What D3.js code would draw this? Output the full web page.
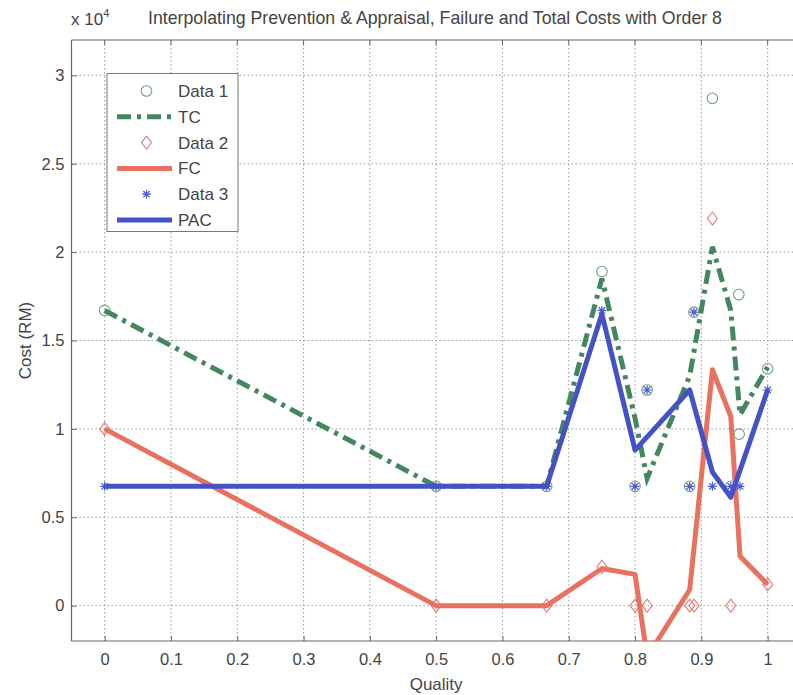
<!DOCTYPE html>
<html>
<head>
<meta charset="utf-8">
<script src="https://cdn.jsdelivr.net/npm/d3@7"></script>
<style>
  html, body { margin: 0; padding: 0; background: #fff; }
  svg { display: block; }
  text { font-family: "Liberation Sans", Arial, Helvetica, sans-serif; fill: #444; }
</style>
</head>
<body>
<svg id="chart" width="793" height="695"></svg>
<script>
// ---------- data ----------
const titleText = "Interpolating Prevention & Appraisal, Failure and Total Costs with Order 8";
const xLabel = "Quality";
const yLabel = "Cost (RM)";
const xTicks = [0, 0.1, 0.2, 0.3, 0.4, 0.5, 0.6, 0.7, 0.8, 0.9, 1];
const yTicks = [0, 5000, 10000, 15000, 20000, 25000, 30000];
const yTickLabels = ["0", "0.5", "1", "1.5", "2", "2.5", "3"];

// interpolated curves
const lineX   = [0, 0.5, 0.6667, 0.75, 0.8, 0.8182, 0.8824, 0.9167, 0.9444, 0.9583, 1.0];
const tcLine  = [16700, 6750, 6750, 18500, 10600, 7200, 13000, 20300, 16700, 10800, 13500];
const fcLine  = [10000, 0, 0, 2100, 1770, -2900, 900, 13350, 10700, 2800, 1200];
const pacLine = [6750, 6750, 6750, 16500, 8800, 9550, 12200, 7560, 6130, 7650, 12200];

// data points
const data1X = [0, 0.5, 0.6667, 0.75, 0.8, 0.8182, 0.8824, 0.8889, 0.9167, 0.9444, 0.9570, 0.9565, 1.0];
const data1Y = [16700, 6750, 6750, 18900, 6750, 12200, 6750, 16600, 28700, 6750, 9700, 17600, 13400];
const data2X = [0, 0.5, 0.6667, 0.75, 0.8, 0.8182, 0.8824, 0.8889, 0.9167, 0.9444, 1.0];
const data2Y = [10000, 0, 0, 2200, 0, 0, 0, 0, 21900, 0, 1200];
const data3X = [0, 0.5, 0.6667, 0.75, 0.8, 0.8182, 0.8824, 0.8889, 0.9167, 0.9444, 0.9583, 1.0];
const data3Y = [6750, 6750, 6750, 16700, 6750, 12200, 6750, 16600, 6750, 6750, 6750, 12200];

const legendNames = ["Data 1", "TC", "Data 2", "FC", "Data 3", "PAC"];

// ---------- styles ----------
const cTC = "#44875f", cFC = "#e8725f", cPAC = "#4552c6";
const cD1 = "#6f9f80", cD2 = "#e07a78", cD3 = "#4a5ad2";
const FS = 17;

const svg = d3.select("#chart");
const L = 71.5, T = 40, B = 641, R = 800.8;

const x = d3.scaleLinear().domain([-0.05, 1.05]).range([L, R]);
const y = d3.scaleLinear().domain([-2000, 32000]).range([B, T]);

svg.append("defs").append("clipPath").attr("id", "plotclip")
  .append("rect").attr("x", L).attr("y", T).attr("width", R - L).attr("height", B - T);

// grid
const grid = svg.append("g");
grid.selectAll("line.vg").data(xTicks).join("line")
  .attr("x1", d => x(d)).attr("x2", d => x(d)).attr("y1", T).attr("y2", B)
  .attr("stroke", "#9a9a9a").attr("stroke-width", 1).attr("stroke-dasharray", "1.5,2.5");
grid.selectAll("line.hg").data(yTicks).join("line")
  .attr("x1", L).attr("x2", R).attr("y1", d => y(d)).attr("y2", d => y(d))
  .attr("stroke", "#9a9a9a").attr("stroke-width", 1).attr("stroke-dasharray", "1.5,2.5");

// axes
const xAxis = d3.axisBottom(x).tickValues(xTicks).tickSize(-5).tickPadding(12)
  .tickFormat(d3.format("~g"));
const gx = svg.append("g").attr("transform", `translate(0,${B})`).call(xAxis);
const yAxis = d3.axisLeft(y).tickValues(yTicks).tickSize(-5).tickPadding(7)
  .tickFormat((d, i) => yTickLabels[i]);
const gy = svg.append("g").attr("transform", `translate(${L},0)`).call(yAxis);
[gx, gy].forEach(g => {
  g.select(".domain").attr("stroke", "#666").attr("stroke-width", 1.2);
  g.selectAll(".tick line").attr("stroke", "#666");
  g.selectAll(".tick text").attr("font-size", FS - 0.5).attr("fill", "#555")
    .attr("font-family", "'Liberation Sans', Arial, sans-serif");
});
gx.select(".domain").attr("d", `M${L},0H${R}`);
gy.select(".domain").attr("d", `M0,${B}V${T}`);
// top border
svg.append("line").attr("x1", L).attr("x2", R).attr("y1", T).attr("y2", T)
  .attr("stroke", "#666").attr("stroke-width", 1.2);
// top ticks
svg.selectAll("line.tt").data(xTicks).join("line")
  .attr("x1", d => x(d)).attr("x2", d => x(d)).attr("y1", T).attr("y2", T + 5).attr("stroke", "#666");

// ---------- plot ----------
const plot = svg.append("g").attr("clip-path", "url(#plotclip)");
const lineGen = d3.line().x(d => x(d[0])).y(d => y(d[1]));
const zip = (xs, ys) => xs.map((v, i) => [v, ys[i]]);

function circles(xs, ys) {
  plot.append("g").selectAll("circle").data(zip(xs, ys)).join("circle")
    .attr("cx", d => x(d[0])).attr("cy", d => y(d[1])).attr("r", 5.3)
    .attr("fill", "none").attr("stroke", cD1).attr("stroke-width", 1.1);
}
function diamonds(xs, ys) {
  plot.append("g").selectAll("path").data(zip(xs, ys)).join("path")
    .attr("d", d => { const cx = x(d[0]), cy = y(d[1]);
      return `M${cx},${cy-6.5}L${cx+5},${cy}L${cx},${cy+6.5}L${cx-5},${cy}Z`; })
    .attr("fill", "none").attr("stroke", cD2).attr("stroke-width", 1.1);
}
function stars(xs, ys) {
  plot.append("g").selectAll("path").data(zip(xs, ys)).join("path")
    .attr("d", d => { const cx = x(d[0]), cy = y(d[1]), s = 4.5, t = 3.2;
      return `M${cx-s},${cy}H${cx+s}M${cx},${cy-s}V${cy+s}M${cx-t},${cy-t}L${cx+t},${cy+t}M${cx-t},${cy+t}L${cx+t},${cy-t}`; })
    .attr("fill", "none").attr("stroke", cD3).attr("stroke-width", 1.2);
}

circles(data1X, data1Y);
plot.append("path").attr("d", lineGen(zip(lineX, tcLine)))
  .attr("fill", "none").attr("stroke", cTC).attr("stroke-width", 5)
  .attr("stroke-dasharray", "14,6,4,6");
diamonds(data2X, data2Y);
plot.append("path").attr("d", lineGen(zip(lineX, fcLine)))
  .attr("fill", "none").attr("stroke", cFC).attr("stroke-width", 5).attr("stroke-linejoin", "round");
stars(data3X, data3Y);
plot.append("path").attr("d", lineGen(zip(lineX, pacLine)))
  .attr("fill", "none").attr("stroke", cPAC).attr("stroke-width", 5).attr("stroke-linejoin", "round");

// ---------- legend ----------
const lg = svg.append("g");
lg.append("rect").attr("x", 107).attr("y", 73.5).attr("width", 131).attr("height", 158)
  .attr("fill", "#fff").attr("stroke", "#777").attr("stroke-width", 1);
const rowY = i => 91 + i * 25.8;
const sx1 = 117, sx2 = 172, mx = 146.5;
legendNames.forEach((name, i) => {
  const yy = rowY(i);
  if (i === 0) lg.append("circle").attr("cx", mx).attr("cy", yy).attr("r", 5.3)
      .attr("fill", "none").attr("stroke", cD1).attr("stroke-width", 1.1);
  if (i === 1) lg.append("line").attr("x1", sx1).attr("x2", sx2).attr("y1", yy).attr("y2", yy)
      .attr("stroke", cTC).attr("stroke-width", 5).attr("stroke-dasharray", "14,6,4,6");
  if (i === 2) lg.append("path").attr("d", `M${mx},${yy-6.5}L${mx+5},${yy}L${mx},${yy+6.5}L${mx-5},${yy}Z`)
      .attr("fill", "none").attr("stroke", cD2).attr("stroke-width", 1.1);
  if (i === 3) lg.append("line").attr("x1", sx1).attr("x2", sx2).attr("y1", yy).attr("y2", yy)
      .attr("stroke", cFC).attr("stroke-width", 5);
  if (i === 4) { const s = 4.5, t = 3.2;
    lg.append("path").attr("d", `M${mx-s},${yy}H${mx+s}M${mx},${yy-s}V${yy+s}M${mx-t},${yy-t}L${mx+t},${yy+t}M${mx-t},${yy+t}L${mx+t},${yy-t}`)
      .attr("fill", "none").attr("stroke", cD3).attr("stroke-width", 1.2); }
  if (i === 5) lg.append("line").attr("x1", sx1).attr("x2", sx2).attr("y1", yy).attr("y2", yy)
      .attr("stroke", cPAC).attr("stroke-width", 5);
  lg.append("text").attr("x", 178).attr("y", yy + 6).attr("font-size", FS).attr("fill", "#444").text(name);
});

// ---------- texts ----------
const title = svg.append("text").attr("x", 435).attr("y", 24).attr("text-anchor", "middle")
  .attr("font-family", "'Liberation Sans Narrow', 'Liberation Sans', Arial, sans-serif")
  .attr("font-size", 15).attr("fill", "#555").text(titleText);
const w = title.node().getComputedTextLength();
title.attr("font-size", 15 * 574 / w);

const ex = svg.append("text").attr("x", 71).attr("y", 25).attr("font-size", FS).attr("fill", "#555");
ex.append("tspan").text("x 10");
ex.append("tspan").attr("dy", -8).attr("font-size", 11).text("4");

svg.append("text").attr("x", (L + R) / 2).attr("y", 690).attr("text-anchor", "middle")
  .attr("font-size", FS).attr("fill", "#555").text(xLabel);
svg.append("text").attr("transform", `translate(31,${(T + B) / 2}) rotate(-90)`)
  .attr("text-anchor", "middle").attr("font-size", FS).attr("fill", "#555").text(yLabel);
</script>
</body>
</html>
